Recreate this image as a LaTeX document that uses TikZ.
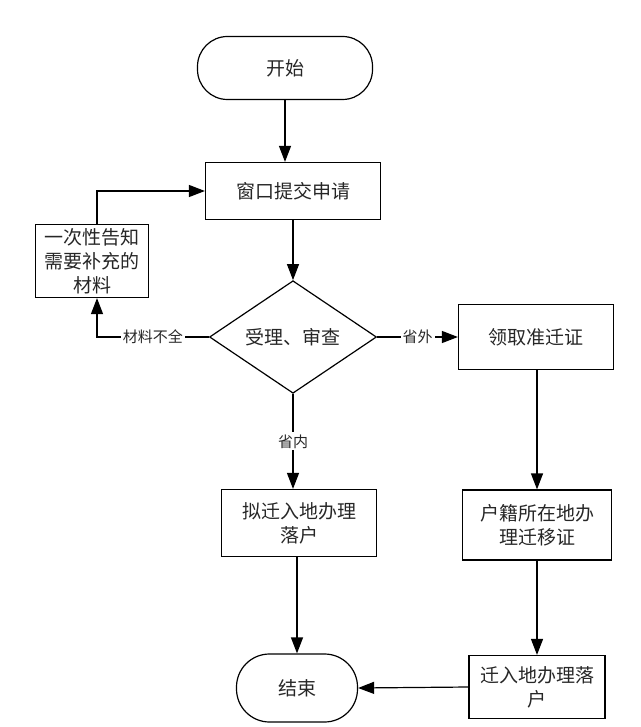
\documentclass[tikz,border=0pt]{standalone}
\usepackage{fontspec}
\setmainfont{Noto Sans CJK SC}
\usetikzlibrary{shapes.geometric,arrows.meta}
\begin{document}
\begin{tikzpicture}[x=1pt,y=-1pt,line width=1.2pt,
	every node/.style={text=black!85,font=\fontsize{19}{24}\selectfont,inner sep=1pt},
	>={Triangle[length=16pt,width=12pt]},
	terminal/.style={draw,rectangle,rounded corners=30pt},
	proc/.style={draw,rectangle,align=center},
	decision/.style={draw,diamond,minimum width=167pt,minimum height=85pt,inner sep=0pt},
	lbl/.style={fill=white,font=\fontsize{15}{16}\selectfont,inner sep=2pt}]
\useasboundingbox (0,0) rectangle (640,727);
\node[terminal,minimum width=175pt,minimum height=63pt] (start) at (285,68) {开始};
\node[proc,minimum width=175pt,minimum height=57pt] (submit) at (293,191) {窗口提交申请};
\node[proc,minimum width=113pt,minimum height=73pt] (notify) at (92,261) {一次性告知\\需要补充的\\材料};
\node[decision] (check) at (293,337) {受理、审查};
\node[proc,minimum width=155pt,minimum height=65pt] (permit) at (536,337) {领取准迁证};
\node[proc,minimum width=155pt,minimum height=67pt] (local) at (299,523) {拟迁入地办理\\落户};
\node[proc,minimum width=149pt,minimum height=70pt] (cert) at (537,525) {户籍所在地办\\理迁移证};
\node[proc,minimum width=136pt,minimum height=63pt] (settle) at (537,687) {迁入地办理落\\户};
\node[terminal,minimum width=121pt,minimum height=68pt,rounded corners=33pt] (finish) at (297,688) {结束};
\coordinate (bend) at (97,337);
% connectors
\draw[->] (start.south) -- (start.south |- submit.north);
\draw[->] (submit) -- (check);
\draw[->] (check.west) -- node[lbl] {材料不全} (bend) -- (bend |- notify.south);
\draw[->] (bend |- notify.north) |- (submit.west);
\draw[->] (check.east) -- node[lbl] {省外} (permit.west);
\draw[->] (check.south) -- node[lbl] {省内} (check.south |- local.north);
\draw[->] (permit.south -| cert.north) -- (cert.north);
\draw[->] (cert.south) -- (settle.north);
\draw[->] (local.south -| finish.north) -- (finish.north);
\draw[->] (settle.west) -- (finish.east);
\end{tikzpicture}
\end{document}
